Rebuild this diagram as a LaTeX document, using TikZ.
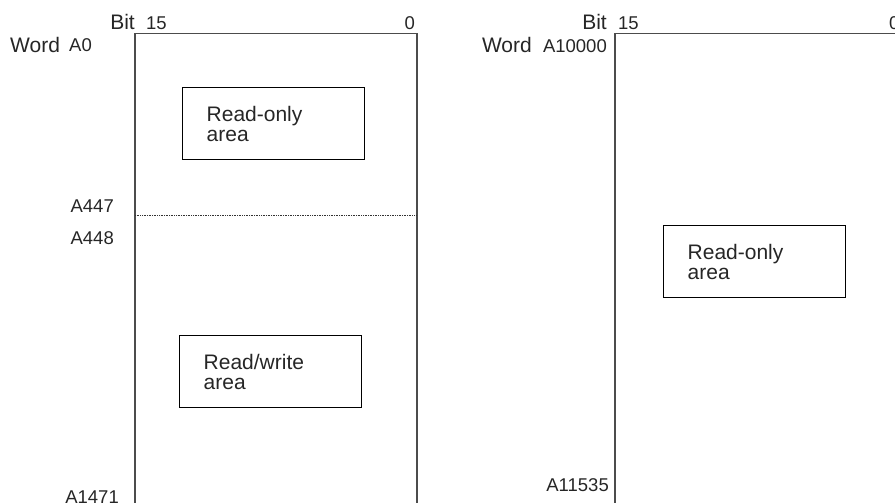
\documentclass[tikz,border=0pt]{standalone}
\usepackage{fontspec}
\setmainfont{Liberation Sans}
\usetikzlibrary{positioning}

\begin{document}
\begin{tikzpicture}[
  x=1pt, y=-1pt,
  frame/.style={
    draw=black!70, rectangle, line width=1.2pt,
    inner sep=0pt, outer sep=0pt, anchor=north west
  },
  area/.style={
    draw, rectangle, line width=1.4pt, anchor=north west,
    minimum width=182pt, minimum height=72pt,
    text width=134pt, inner xsep=24pt, align=left,
    font=\fontsize{21}{20}\selectfont, text=black!85
  },
  head/.style={inner sep=0pt, font=\fontsize{21}{24}\selectfont, text=black!85},
  addr/.style={inner sep=0pt, font=\fontsize{18.5}{22}\selectfont, text=black!85}
]
\useasboundingbox (0,0) rectangle (895,503);
\clip (0,0) rectangle (895,503);

% --- Area A0 to A1471 ---
\node[frame, minimum width=282pt, minimum height=480pt] (mapL) at (135,33.5) {};
\node[head, anchor=base east] (bitL)  at (135,30) {Bit};
\node[addr, anchor=base west] (hiL)   at (146,30) {15};
\node[addr, anchor=base east] (loL)   at (415,30) {0};
\node[head, anchor=base west] (wordL) at (10,53)  {Word};
\node[addr, anchor=base west] (a0)    at (69,52)  {A0};
\node[addr, anchor=base east] (a447)  at (114,212) {A447};
\node[addr, anchor=base east] (a448)  at (114,244) {A448};
\node[addr, anchor=base east] (a1471) at (119,503) {A1471};

% boundary between A447 and A448
\coordinate (cut) at (0,215);
\draw[black!80, line width=1pt, dash pattern=on 1pt off 0.7pt]
  (mapL.west |- cut) -- (mapL.east |- cut);

\node[area] (roL) at (182,87)  {Read-only\\area};
\node[area] (rw)  at (179,335) {Read/write\\area};

% --- Area A10000 to A11535 ---
\node[frame, minimum width=290pt, minimum height=480pt] (mapR) at (615,33.5) {};
\node[head, anchor=base east] (bitR)   at (607,30) {Bit};
\node[addr, anchor=base west] (hiR)    at (618,30) {15};
\node[addr, anchor=base west] (loR)    at (889,30) {0};
\node[head, anchor=base east] (wordR)  at (532,53) {Word};
\node[addr, anchor=base east] (a10000) at (607,53) {A10000};
\node[addr, anchor=base east] (a11535) at (609,491) {A11535};

\node[area] (roR) at (663,225) {Read-only\\area};

\end{tikzpicture}
\end{document}
